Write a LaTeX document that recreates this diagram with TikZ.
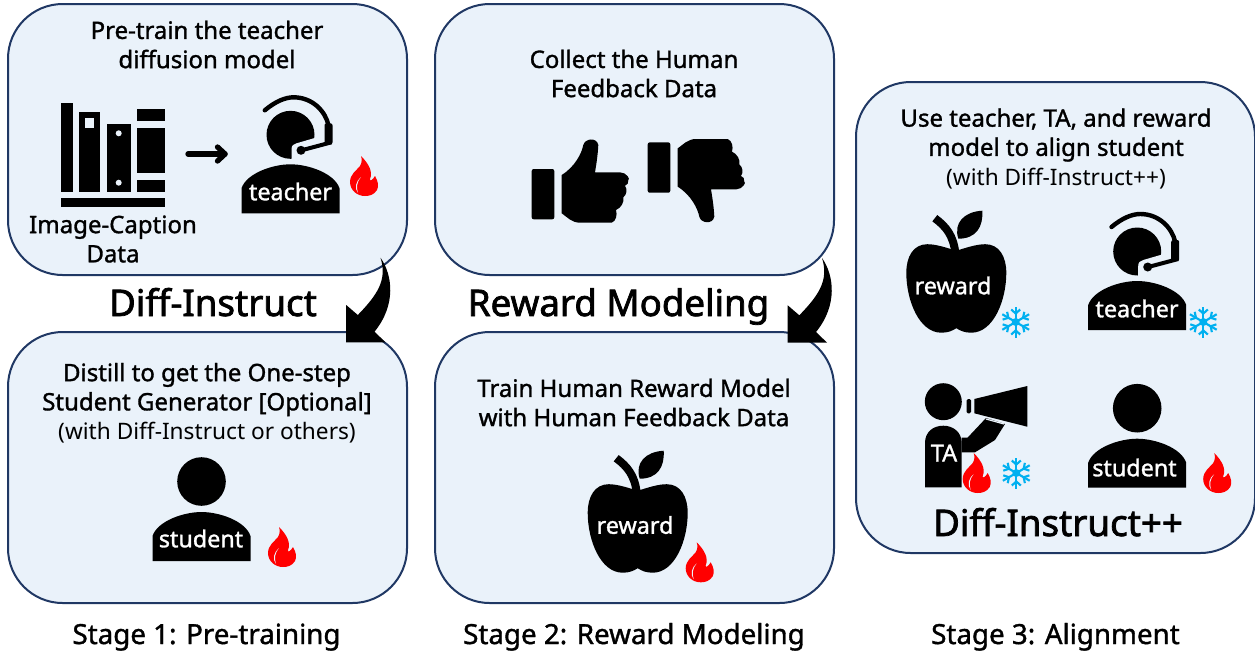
\documentclass[tikz,border=0pt]{standalone}
\usepackage{fontspec}
\setmainfont{Noto Sans}
\newfontfamily\medfont{Noto Sans}[FakeBold=1.3]
\newfontfamily\headfont{Noto Sans}[FakeBold=2]
\definecolor{boxfill}{HTML}{EAF2FA}
\definecolor{boxline}{HTML}{203864}
\definecolor{flamered}{HTML}{FF0000}
\definecolor{icecyan}{HTML}{00B0F0}
\def\px{0.75pt}
\tikzset{
  x=0.75pt,y=-0.75pt,
  panel/.style={draw=boxline,fill=boxfill,line width=1.5pt,rounded corners=41pt,minimum width=399*\px,inner sep=0pt,outer sep=0pt},
  txt/.style={font=\medfont\fontsize{18}{21.9}\selectfont,align=center,inner sep=0pt,text=black},
  lighttxt/.style={font=\fontsize{17}{21.9}\selectfont,align=center,inner sep=0pt,text=black},
  stagetxt/.style={font=\medfont\fontsize{20.8}{24}\selectfont,anchor=base,inner sep=0pt,text=black},
  bigtxt/.style={font=\headfont\fontsize{27.5}{32}\selectfont,anchor=base,inner sep=0pt,text=black},
  icontxt/.style={font=\medfont\fontsize{17.5}{20}\selectfont,inner sep=0pt,text=white},
  pics/person/.style={code={
    \fill[black] (-49,0) -- (-49,-25) .. controls (-44,-40) and (-18,-49) .. (0,-49) .. controls (18,-49) and (44,-40) .. (49,-25) -- (49,0) -- cycle;
    \fill[black] (0,-79.5) circle[radius=24.3];
  }},
  pics/teacherman/.style={code={
    \fill[black] (-49,0) -- (-49,-25) .. controls (-44,-40) and (-18,-49) .. (0,-49) .. controls (18,-49) and (44,-40) .. (49,-25) -- (49,0) -- cycle;
    \fill[black] (0,-78.5) circle[radius=24];
    \fill[boxfill] (1,-51) -- (1,-64) .. controls (1,-68) and (3,-69) .. (6,-70) -- (30,-77) -- (30,-51) -- cycle;
    \draw[black,line width=3.3pt,line cap=round] (-25.7,-103) .. controls (-15,-112) and (-5,-116) .. (3,-116) .. controls (22,-116) and (35,-102) .. (38,-88);
    \fill[black,rounded corners=1.5pt] (34,-90) rectangle (42,-69);
    \draw[black,line width=3pt] (41,-71) -- (11,-63);
    \fill[black] (10.5,-63) circle[radius=4.5];
  }},
  pics/applefruit/.style={code={
    \fill[black] (0,-82) .. controls (-10,-85) and (-20,-88.5) .. (-29,-88.5) .. controls (-43,-88.5) and (-50,-76) .. (-50,-60) .. controls (-50,-32) and (-37,0) .. (-15,0) .. controls (-8,0) and (-4,-2) .. (0,-4.5) .. controls (4,-2) and (8,0) .. (15,0) .. controls (37,0) and (50,-32) .. (50,-60) .. controls (50,-76) and (43,-88.5) .. (29,-88.5) .. controls (20,-88.5) and (10,-85) .. (0,-82) -- cycle;
    \draw[black,line width=6pt] (-21.5,-114.5) .. controls (-10,-106) and (-3,-97) .. (-1,-80);
    \fill[black] (2,-94) .. controls (-3,-110) and (8,-121) .. (26,-122) .. controls (27,-106) and (20,-94) .. (2,-94) -- cycle;
  }},
  pics/flame/.style={code={
    \fill[flamered] (-3,-40) .. controls (5,-32) and (9,-24) .. (6,-17) .. controls (5,-14) and (9,-16) .. (11,-20) .. controls (14,-15) and (15,-10) .. (13,-6) .. controls (10,-1) and (5,0) .. (1,0) .. controls (-7,0) and (-14,-6) .. (-14,-14) .. controls (-14,-22) and (-7,-26) .. (-4,-30) .. controls (-2,-33) and (-2,-37) .. (-3,-40) -- cycle;
    \fill[boxfill] (-3,-19) .. controls (-8,-15) and (-10,-8) .. (-6,-3) .. controls (-8,-9) and (-7,-14) .. (-3,-19) -- cycle;
  }},
  pics/snowflake/.style={code={
    \fill[icecyan] (0,0) circle[radius=4];
    \foreach \a in {90,30,-30,-90,150,210}{
      \begin{scope}[rotate=\a]
        \draw[icecyan,line width=1.6pt] (0,0) -- (15.5,0);
        \draw[icecyan,line width=1.6pt] (12.5,-4.5) -- (8.5,0) -- (12.5,4.5);
      \end{scope}
    }
  }},
  pics/thumb/.style={code={
    \fill[black,rounded corners=1.5pt] (-48.3,-11) rectangle (-25.7,39.3);
    \fill[black] (-18.3,-5) .. controls (-5,-13.3) and (1.7,-26.7) .. (3.3,-35) .. controls (5,-41.7) and (16.7,-43) .. (18.3,-35) .. controls (17.7,-23.3) and (16,-14) .. (15,-7.7) -- (40,-7.7) .. controls (46.7,-7.7) and (50.7,0) .. (48.3,0) .. controls (49,3) and (47,5) .. (45,5.7) .. controls (47.5,9) and (46.7,15) .. (43.3,17.3) .. controls (44.5,22) and (41,28) .. (36,30) .. controls (37.5,35) and (36,41) .. (31.7,42.7) -- (0,42.7) .. controls (-8.3,42.7) and (-13,37) .. (-18.3,33.3) -- cycle;
  }},
  pics/curvedarrow/.style={code={
    \fill[black] (0,0) .. controls (12,17) and (16,47) .. (-6,74) -- (5,84.6) -- (-34.3,84.6) -- (-34.3,47.3) -- (-22.7,57.3) .. controls (-3,37) and (7,22) .. (0,0) -- cycle;
  }},
}
\begin{document}
\begin{tikzpicture}
\useasboundingbox (0,0) rectangle (1255,651);
\fill[white] (0,0) rectangle (1255,651);

% panels
\node[panel,minimum height=271*\px] (pretrain) at (207.5,139.5) {};
\node[panel,minimum height=271*\px] (distill) at (207.5,467.5) {};
\node[panel,minimum height=271*\px] (collect) at (634.5,139.5) {};
\node[panel,minimum height=271*\px] (trainreward) at (634.5,467.5) {};
\node[panel,minimum height=471*\px] (align) at (1055.5,317.5) {};

% panel 1
\node[txt] (t1) at (207,44.5) {Pre-train the teacher\\diffusion model};
\fill[black] (60.7,198.3) rectangle (165,207.3);
\fill[black] (60.7,103.3) rectangle (72.7,191.7);
\fill[black] (79,112.3) rectangle (100,191.7);
\fill[boxfill] (85,118.3) rectangle (94.3,127.7);
\fill[black] (106.7,124.3) rectangle (131,191.7);
\fill[boxfill] (118.7,133.3) circle[radius=3] (118.7,182.7) circle[radius=3];
\fill[black] (137.3,109.3) rectangle (165,121);
\fill[black] (137.3,127.7) rectangle (165,173.3);
\fill[black] (137.3,180) rectangle (165,191.7);
\coordinate (booksright) at (188,154);
\coordinate (teacherleft) at (225,154);
\draw[black,line width=4pt,line cap=round] (booksright) -- (teacherleft);
\draw[black,line width=4pt,line cap=round,line join=round] (217.5,147) -- (225,154) -- (217.5,161);
\pic at (290.5,213.3) {teacherman};
\node[icontxt] (teach1) at (290.5,191.5) {teacher};
\pic at (364,196) {flame};
\node[txt] (t1b) at (113,239) {Image-Caption\\Data};

% panel 2
\node[txt] (t2) at (207,389.5) {Distill to get the One-step\\Student Generator [Optional]};
\node[lighttxt] (t2b) at (207,432.5) {(with Diff-Instruct or others)};
\pic at (201.5,561) {person};
\node[icontxt] (stud1) at (201,538.5) {student};
\pic at (282,567) {flame};

% panel 3
\node[txt] (t3) at (634,73.5) {Collect the Human\\Feedback Data};
\pic at (580,180) {thumb};
\pic[yscale=-1] at (696,181.7) {thumb};

% panel 4
\node[txt] (t4) at (634,402.5) {Train Human Reward Model\\with Human Feedback Data};
\pic at (637.7,572.7) {applefruit};
\node[icontxt] (rew1) at (635,525) {reward};
\pic at (699.7,582.3) {flame};

% panel 5
\node[txt] (t5) at (1056,135) {Use teacher, TA, and reward\\model to align student};
\node[lighttxt] (t5b) at (1056,179) {(with Diff-Instruct++)};
\pic at (956.3,332.7) {applefruit};
\node[icontxt] (rew2) at (953,285.5) {reward};
\pic at (1015.7,322) {snowflake};
\pic at (1137.2,330) {teacherman};
\node[icontxt] (teach2) at (1137,308.5) {teacher};
\pic at (1203.3,322) {snowflake};
% TA
\fill[black] (943.3,401.7) circle[radius=18.5];
\fill[black] (925,487.3) -- (925,443) .. controls (925,432) and (933,425.7) .. (943.3,425.7) .. controls (953,425.7) and (961.7,432) .. (961.7,443) -- (961.7,487.3) -- cycle;
\fill[black] (961.7,437.7) -- (967.5,437.7) -- (986,418) -- (1005,424) -- (995,440) -- (975,452.3) -- (961.7,452.3) -- cycle;
\draw[boxfill,line width=0.9pt] (986,419) -- (1004,424);
\fill[black] (974.3,399) -- (1027.3,386) -- (1027.3,426.7) -- (974.3,413.3) -- cycle;
\fill[black,rounded corners=1pt] (966.7,399) rectangle (971,413.3);
\node[icontxt] (ta) at (944,453) {TA};
\pic at (976.7,493) {flame};
\pic at (1016.3,473) {snowflake};
\pic at (1137.2,487.7) {person};
\node[icontxt] (stud2) at (1134.5,467.5) {student};
\pic at (1217.2,493) {flame};
\node[bigtxt] (di2) at (1058,536) {Diff-Instruct++};

% headings
\node[bigtxt] (di1) at (213,316) {Diff-Instruct};
\node[bigtxt] (rm) at (618.5,316) {Reward Modeling};
\node[stagetxt] (s1) at (206.5,644) {Stage 1: Pre-training};
\node[stagetxt] (s2) at (634,644) {Stage 2: Reward Modeling};
\node[stagetxt] (s3) at (1055.5,644) {Stage 3: Alignment};

% curved arrows
\pic at ([shift={(-26.5,-17.3)}]pretrain.south east) {curvedarrow};
\pic at ([shift={(-12,-17)}]collect.south east) {curvedarrow};
\end{tikzpicture}
\end{document}
